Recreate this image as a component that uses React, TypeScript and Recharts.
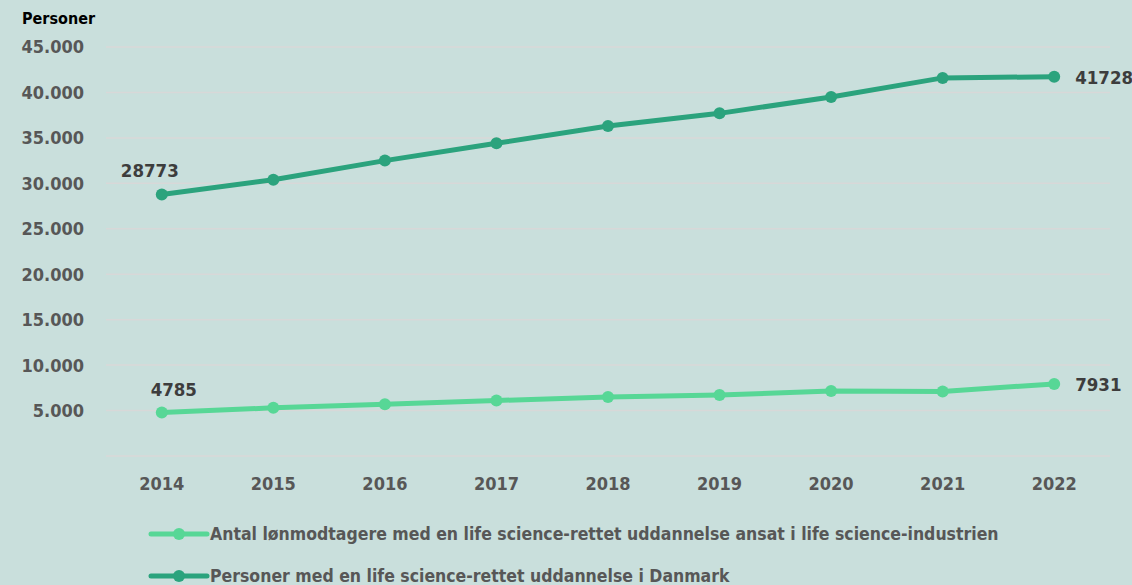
import { LineChart, Line, XAxis, YAxis, CartesianGrid, Legend } from "recharts";

const years = ["2014", "2015", "2016", "2017", "2018", "2019", "2020", "2021", "2022"];
const employed = [4785, 5300, 5700, 6100, 6500, 6700, 7150, 7100, 7931];
const educated = [28773, 30400, 32500, 34400, 36300, 37700, 39500, 41600, 41728];
const yTicks = [0, 5000, 10000, 15000, 20000, 25000, 30000, 35000, 40000, 45000];

const seriesNames = [
  "Antal lønmodtagere med en life science-rettet uddannelse ansat i life science-industrien",
  "Personer med en life science-rettet uddannelse i Danmark",
];

const LIGHT = "#57d796";
const DARK = "#2ba37d";
const FONT = "'DejaVu Sans Condensed', 'DejaVu Sans', sans-serif";
const base = { fontFamily: FONT, fontWeight: 700, fontStretch: "condensed" } as const;

const data = years.map((y, i) => ({ year: y, employed: employed[i], educated: educated[i] }));

const fmt = (v: number) => (v === 0 ? "" : v.toLocaleString("da-DK"));

function EndLabel(props: any) {
  const { x, y, value, index, shift } = props;
  const last = years.length - 1;
  const style = { ...base, fontSize: 18.5, fill: "#3d3d3d" };
  if (index === 0) {
    return (
      <text x={x + shift} y={y - 17} textAnchor="middle" style={style}>
        {value}
      </text>
    );
  }
  if (index === last) {
    return (
      <text x={x + 21} y={y + 7} textAnchor="start" style={style}>
        {value}
      </text>
    );
  }
  return null;
}

function LegendBox() {
  const colors = [LIGHT, DARK];
  return (
    <div style={{ paddingLeft: 148 }}>
      {seriesNames.map((n, i) => (
        <div key={n} style={{ display: "flex", alignItems: "center", height: 42, marginTop: i === 0 ? 8 : 0 }}>
          <svg width={62} height={16}>
            <line x1={3} y1={8} x2={59} y2={8} stroke={colors[i]} strokeWidth={5} strokeLinecap="round" />
            <circle cx={31} cy={8} r={6} fill={colors[i]} />
          </svg>
          <span style={{ ...base, fontSize: 17.5, color: "#575757" }}>{n}</span>
        </div>
      ))}
    </div>
  );
}

export default function App() {
  return (
    <div style={{ position: "absolute", left: 0, top: 0, width: 1132, height: 585, background: "#c9dfdc" }}>
      <div style={{ ...base, position: "absolute", left: 22, top: 9, fontSize: 16, color: "#000" }}>Personer</div>
      <LineChart width={1132} height={585} data={data} margin={{ top: 47, right: 22, left: 8, bottom: 0 }}>
        <CartesianGrid vertical={false} stroke="#d8d8d8" strokeWidth={1.5} />
        <XAxis
          dataKey="year"
          axisLine={false}
          tickLine={false}
          height={49}
          tickMargin={15}
          padding={{ left: 55.8, right: 55.8 }}
          tick={{ ...base, fontSize: 18, fill: "#575757" }}
        />
        <YAxis
          width={98}
          domain={[0, 45000]}
          ticks={yTicks}
          axisLine={false}
          tickLine={false}
          tickMargin={16}
          tickFormatter={fmt}
          tick={{ ...base, fontSize: 18, fill: "#575757" }}
        />
        <Legend verticalAlign="bottom" height={80} wrapperStyle={{ left: 0, width: 1132 }} content={() => <LegendBox />} />
        <Line
          dataKey="employed"
          name={seriesNames[0]}
          stroke={LIGHT}
          strokeWidth={5}
          dot={{ r: 6, fill: LIGHT, stroke: LIGHT, strokeWidth: 0 }}
          label={<EndLabel shift={12} />}
          isAnimationActive={false}
        />
        <Line
          dataKey="educated"
          name={seriesNames[1]}
          stroke={DARK}
          strokeWidth={5}
          dot={{ r: 6, fill: DARK, stroke: DARK, strokeWidth: 0 }}
          label={<EndLabel shift={-12} />}
          isAnimationActive={false}
        />
      </LineChart>
    </div>
  );
}
